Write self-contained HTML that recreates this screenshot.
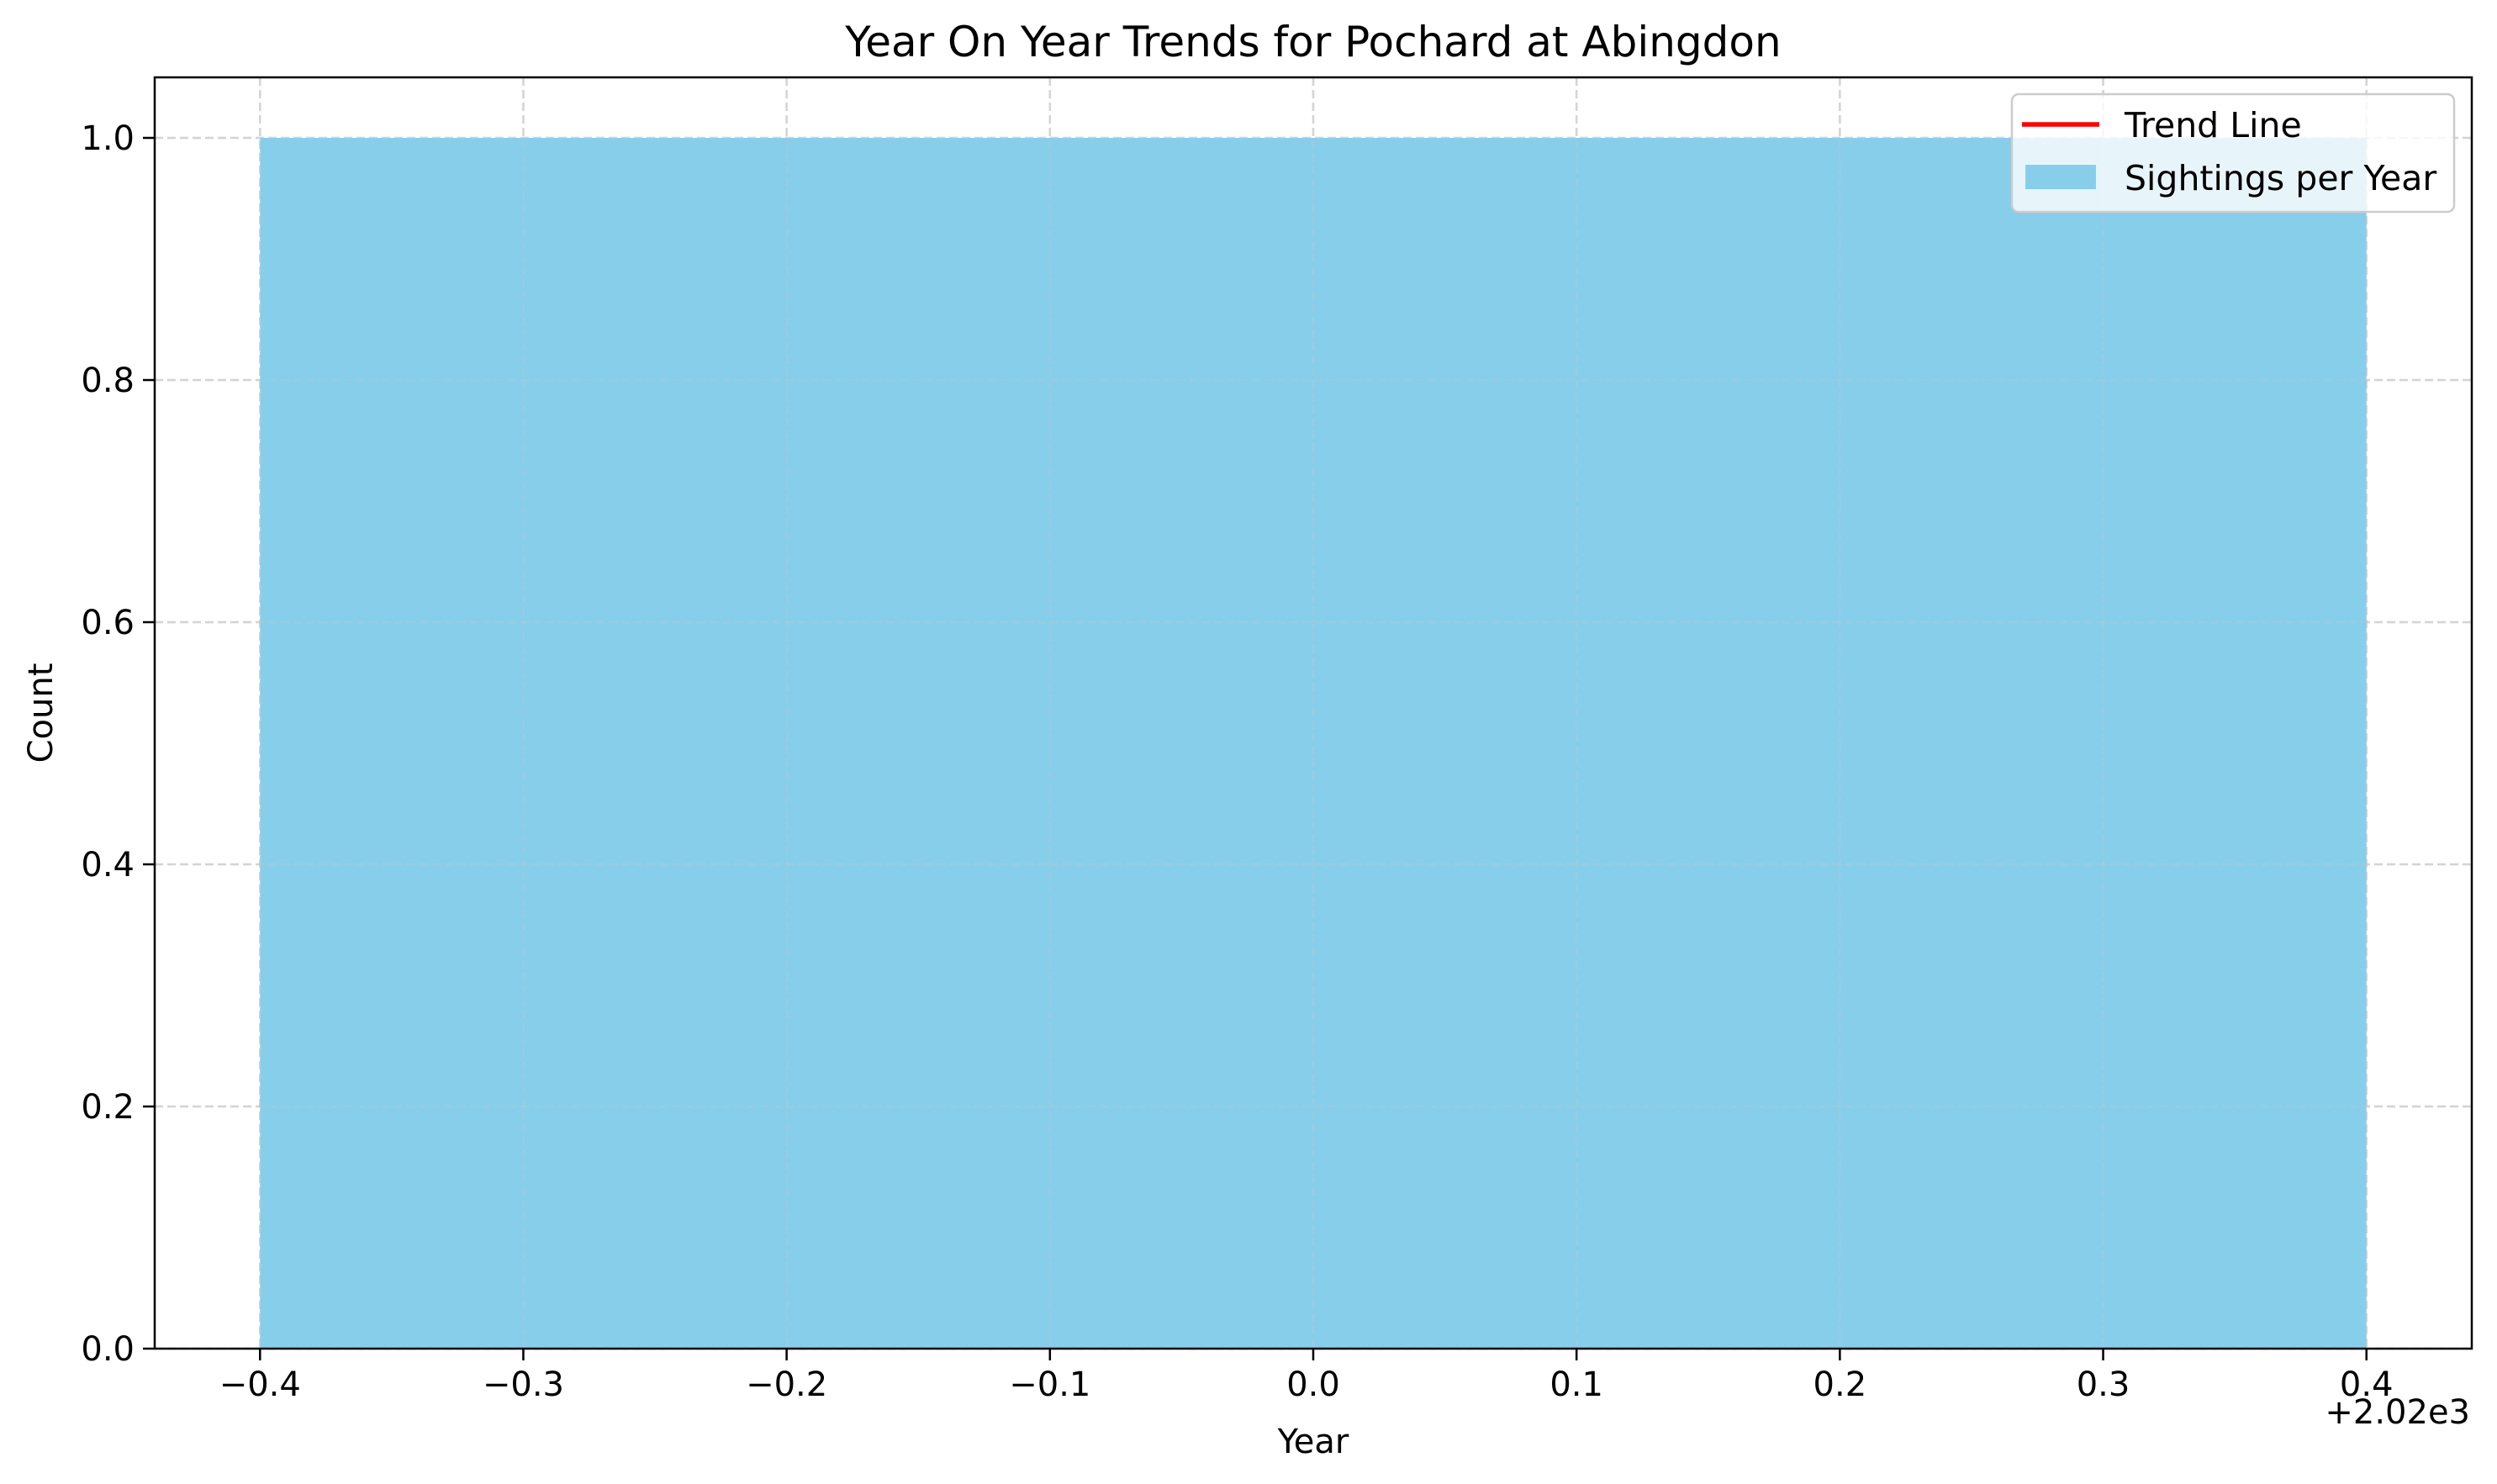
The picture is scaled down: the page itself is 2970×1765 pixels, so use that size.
<!DOCTYPE html>
<html><head><meta charset="utf-8"><style>
body{margin:0;background:#fff}
svg{display:block;font-family:"DejaVu Sans","Liberation Sans",sans-serif}
</style></head><body>
<svg id="chart" width="2970" height="1765" viewBox="0 0 2970 1765" xmlns="http://www.w3.org/2000/svg">
<rect width="2970" height="1765" fill="#fff"/>
<text x="1562" y="67" font-size="50" text-anchor="middle">Year On Year Trends for Pochard at Abingdon</text>
<g id="grid"></g>
<g id="bars"></g>
<g id="gridover"></g>
<rect x="184" y="92" width="2756" height="1512" fill="none" stroke="#000" stroke-width="2.5"/>
<g id="xticks"></g>
<g id="yticks"></g>
<text x="2938" y="1693" font-size="40" text-anchor="end">+2.02e3</text>
<text x="1562" y="1728" font-size="40" text-anchor="middle">Year</text>
<text transform="translate(62,848) rotate(-90)" font-size="40" text-anchor="middle">Count</text>
<g>
<rect x="2393" y="112" width="526" height="140" rx="8" fill="#fff" fill-opacity="0.8" stroke="#ccc" stroke-width="2.5"/>
<line x1="2405" y1="148" x2="2497" y2="148" stroke="#f00" stroke-width="5.5"/>
<text x="2527" y="163" font-size="41">Trend Line</text>
<rect x="2409" y="196" width="84" height="29" fill="#87ceeb"/>
<text x="2527" y="226" font-size="41">Sightings per Year</text>
</g>
</svg>
<script>
const years=[0];
const counts=[1];
const xTicks=[-0.4,-0.3,-0.2,-0.1,0.0,0.1,0.2,0.3,0.4];
const yTicks=[0.0,0.2,0.4,0.6,0.8,1.0];
const L=184,R=2940,T=92,B=1604,xmin=-0.44,xmax=0.44,ymin=0,ymax=1.05;
const NS='http://www.w3.org/2000/svg';
function sx(v){return L+(v-xmin)/(xmax-xmin)*(R-L);}
function sy(v){return B-(v-ymin)/(ymax-ymin)*(B-T);}
function mk(t,a,p){const e=document.createElementNS(NS,t);for(const k in a)e.setAttribute(k,a[k]);p.appendChild(e);return e;}
const grid=document.getElementById('grid'),go=document.getElementById('gridover');
[grid,go].forEach((g,i)=>{
xTicks.forEach(v=>{const l=mk('line',{x1:sx(v),x2:sx(v),y1:T,y2:B,stroke:'#c8c8c8','stroke-opacity':i?0.25:0.7,'stroke-width':2.5,'stroke-dasharray':'10 5'},g);

});
yTicks.forEach(v=>{const l=mk('line',{x1:L,x2:R,y1:sy(v),y2:sy(v),stroke:'#c8c8c8','stroke-opacity':i?0.25:0.7,'stroke-width':2.5,'stroke-dasharray':'10 5'},g);

});
});
const bars=document.getElementById('bars');
years.forEach((y,i)=>{const r=mk('rect',{x:sx(y-0.4),y:sy(counts[i]),width:sx(y+0.4)-sx(y-0.4),height:sy(0)-sy(counts[i]),fill:'#87ceeb'},bars);

});
const xt=document.getElementById('xticks');
xTicks.forEach(v=>{mk('line',{x1:sx(v),x2:sx(v),y1:B,y2:B+14,stroke:'#000','stroke-width':2.5},xt);
const t=mk('text',{x:sx(v),y:B+56,'font-size':40,'text-anchor':'middle'},xt);


t.textContent=(v<0?'\u2212':'')+Math.abs(v).toFixed(1);});
const yt=document.getElementById('yticks');
yTicks.forEach(v=>{mk('line',{x1:L-14,x2:L,y1:sy(v),y2:sy(v),stroke:'#000','stroke-width':2.5},yt);
const t=mk('text',{x:L-24,y:sy(v)+14,'font-size':40,'text-anchor':'end'},yt);


t.textContent=v.toFixed(1);});
</script>
</body></html>
